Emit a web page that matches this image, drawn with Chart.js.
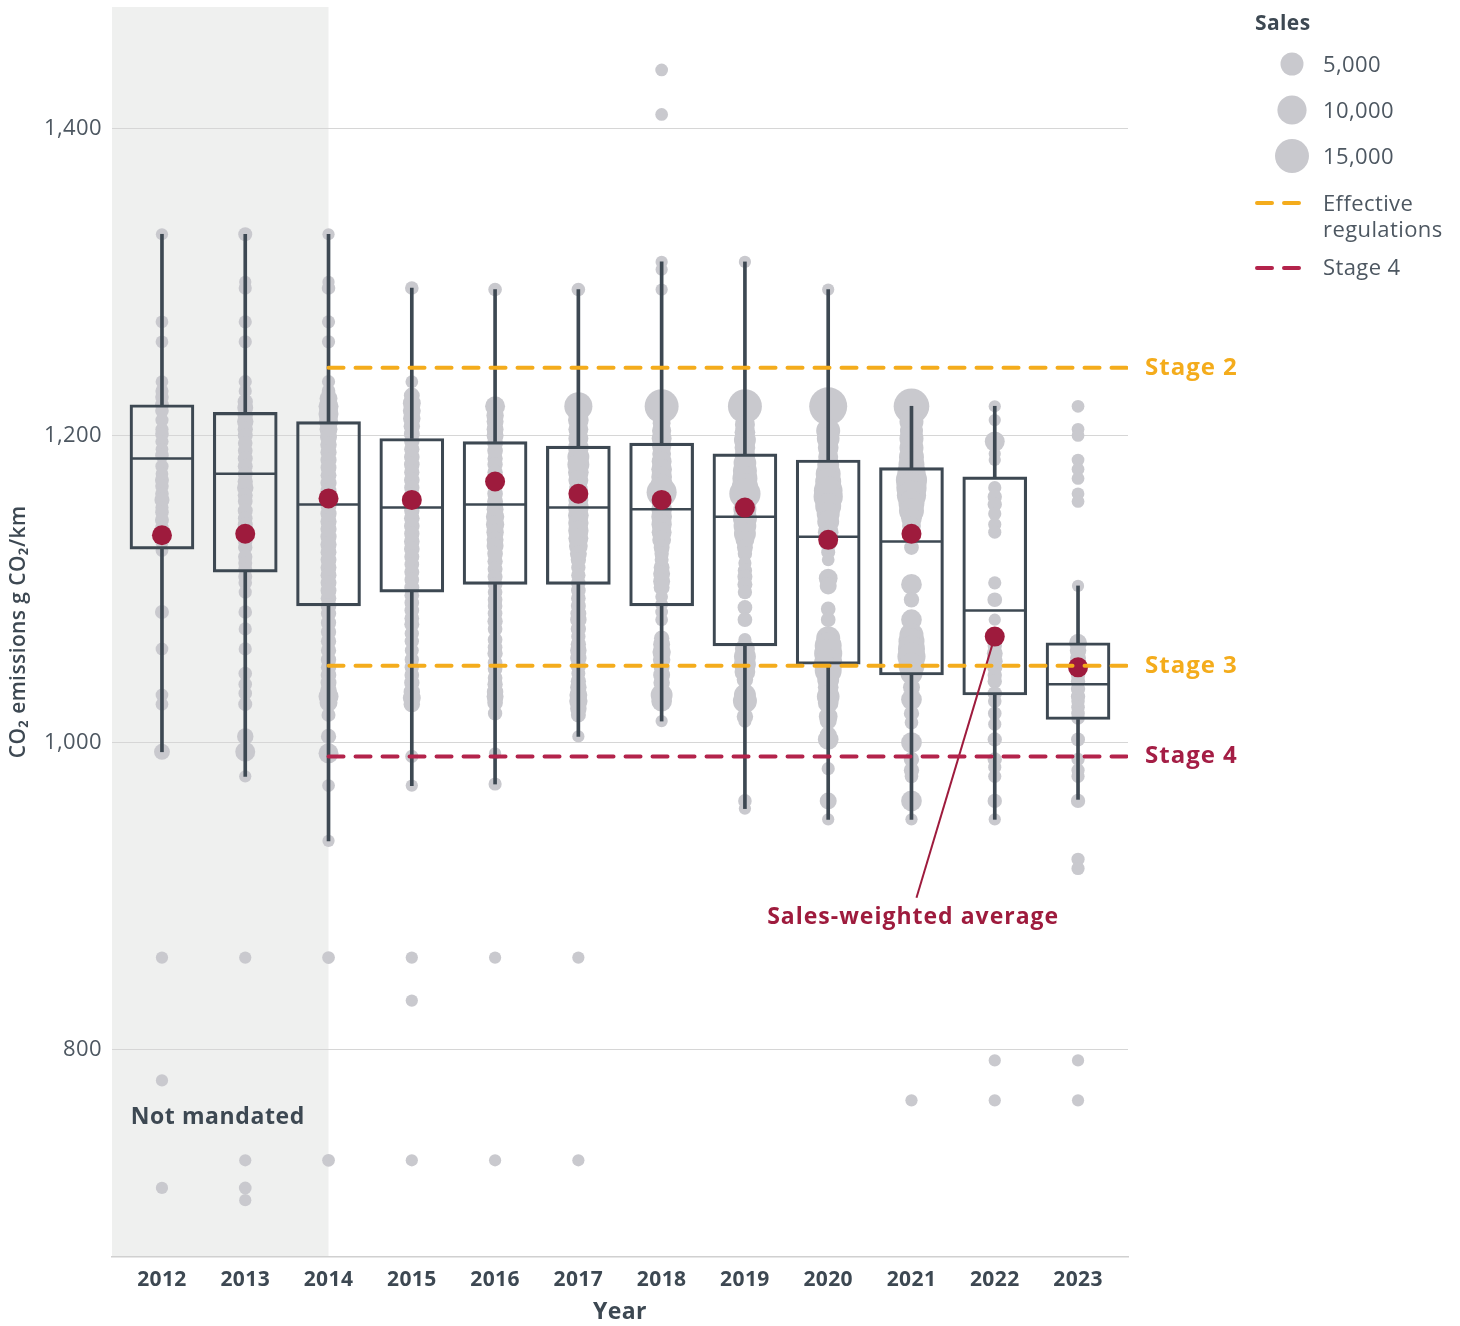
<!DOCTYPE html>
<html>
<head>
<meta charset="utf-8">
<title>Truck CO2 emissions by year</title>
<script src="https://cdn.jsdelivr.net/npm/chart.js@4.4.1/dist/chart.umd.min.js"></script>
<style>
  html, body { margin: 0; padding: 0; background: #ffffff; }
  #wrap { width: 1460px; height: 1326px; }
</style>
</head>
<body>
<div id="wrap"><canvas id="chart" width="1460" height="1326"></canvas></div>
<script>
// ---- data ----------------------------------------------------------------
const years = [2012, 2013, 2014, 2015, 2016, 2017, 2018, 2019, 2020, 2021, 2022, 2023];

// box-plot statistics per year (g CO2/km)
const whiskerLow  = [994, 978, 936, 972, 973, 1004, 1014, 957, 950, 950, 950, 963];
const q1          = [1126, 1111, 1089, 1098, 1103, 1103, 1089, 1063, 1051, 1044, 1031, 1015];
const median      = [1185, 1175, 1155, 1153, 1155, 1153, 1152, 1147, 1134, 1131, 1086, 1038];
const q3          = [1220, 1215, 1209, 1198, 1196, 1193, 1195, 1188, 1184, 1179, 1173, 1065];
const whiskerHigh = [1331, 1331, 1331, 1296, 1295, 1295, 1313, 1313, 1295, 1219, 1219, 1102];

// sales-weighted average per year
const weightedAvg = [1135, 1136, 1159, 1158, 1170, 1162, 1158, 1153, 1132, 1136, 1069, 1049];

// individual models: [emissions, sales]
const models2012 = [[1331,400],[1274,500],[1261,500],[1235,500],[1229,600],[1225,700],[1220,800],[1216,700],[1210,600],[1204,600],[1201,700],[1196,600],[1191,500],[1187,700],[1180,600],[1175,500],[1171,800],[1167,700],[1162,700],[1158,1100],[1153,600],[1150,700],[1145,800],[1140,700],[1135,600],[1130,500],[1125,500],[1085,800],[1061,500],[1031,500],[1025,500],[994,1400],[860,400],[780,400],[710,400]];
const models2013 = [[1331,800],[1300,400],[1296,600],[1274,600],[1261,600],[1235,600],[1229,600],[1222,1200],[1218,1400],[1213,1200],[1209,1600],[1204,1200],[1200,1100],[1195,1000],[1190,1000],[1185,1100],[1180,1100],[1175,1100],[1170,1200],[1166,1600],[1161,1100],[1157,1000],[1151,1100],[1146,1000],[1142,1100],[1136,1000],[1131,900],[1127,900],[1121,900],[1117,800],[1113,800],[1108,800],[1104,700],[1098,600],[1085,700],[1074,600],[1061,600],[1045,700],[1038,700],[1032,700],[1025,800],[1004,1600],[994,3200],[978,400],[860,400],[728,400],[710,500],[702,400]];
const models2014 = [[1331,400],[1300,400],[1296,700],[1274,600],[1261,600],[1235,600],[1229,700],[1224,2200],[1219,3200],[1214,3200],[1209,2800],[1204,2200],[1199,1800],[1194,1600],[1189,1500],[1184,1500],[1179,1400],[1174,1400],[1169,1500],[1164,1400],[1159,1400],[1154,1400],[1149,1500],[1144,1500],[1139,1500],[1134,1500],[1129,1500],[1124,1400],[1119,1400],[1114,1400],[1109,1400],[1104,1400],[1099,1400],[1094,1300],[1089,1300],[1084,1200],[1078,1200],[1072,1200],[1066,1200],[1060,1200],[1054,1200],[1049,1200],[1044,1300],[1039,1400],[1034,1600],[1030,3200],[1026,2200],[1018,800],[1004,1200],[993,3200],[972,500],[936,400],[860,500],[728,500]];
const models2015 = [[1296,700],[1235,500],[1226,1400],[1221,2200],[1216,2200],[1211,2000],[1206,1600],[1201,1400],[1196,1200],[1191,1200],[1186,1300],[1181,1300],[1176,1200],[1171,1300],[1166,1200],[1161,1200],[1156,1200],[1151,1200],[1146,1300],[1141,1300],[1136,1200],[1131,1300],[1126,1300],[1121,1100],[1116,1000],[1111,1100],[1106,1000],[1101,1100],[1096,1000],[1091,1000],[1086,1000],[1081,1000],[1077,1100],[1071,900],[1066,900],[1060,800],[1054,900],[1049,900],[1044,1000],[1039,1200],[1033,1600],[1029,2200],[1025,1600],[991,600],[972,400],[860,400],[832,400],[728,400]];
const models2016 = [[1295,700],[1219,3200],[1213,2000],[1209,1800],[1204,1800],[1200,1800],[1195,1400],[1190,1300],[1185,1200],[1181,1200],[1176,1200],[1172,1200],[1167,1200],[1162,1300],[1157,1400],[1152,1800],[1147,2400],[1142,2400],[1137,2000],[1132,1800],[1128,1800],[1123,1300],[1118,1200],[1113,1100],[1108,1100],[1103,1000],[1098,1000],[1093,1000],[1089,1000],[1084,1000],[1079,1200],[1074,1000],[1067,1000],[1062,1000],[1058,1200],[1052,1000],[1048,1000],[1042,1000],[1038,1200],[1033,1600],[1030,1800],[1026,1300],[1019,900],[993,400],[973,600],[860,400],[728,400]];
const models2017 = [[1295,700],[1219,9000],[1210,3600],[1204,3200],[1198,3200],[1192,3600],[1186,4300],[1181,4300],[1176,3600],[1171,3200],[1165,2600],[1158,3200],[1153,3600],[1148,3600],[1143,3400],[1138,3400],[1133,3200],[1128,2600],[1123,1800],[1119,1200],[1114,900],[1109,900],[1104,1000],[1099,1000],[1094,1000],[1089,1100],[1084,1400],[1080,1600],[1074,1200],[1069,900],[1064,1200],[1060,1600],[1055,1600],[1050,1200],[1045,800],[1040,1200],[1036,1600],[1031,2200],[1027,2400],[1022,1600],[1018,1100],[1004,400],[860,400],[728,400]];
const models2018 = [[1438,500],[1409,500],[1313,400],[1308,400],[1295,400],[1219,15000],[1208,2200],[1203,2800],[1198,3200],[1193,2800],[1188,2600],[1183,3200],[1178,3600],[1173,3600],[1168,4300],[1163,10800],[1152,3600],[1147,3600],[1142,3400],[1137,3200],[1132,2600],[1127,1400],[1123,900],[1119,800],[1114,1400],[1110,1800],[1105,1800],[1101,1400],[1095,500],[1090,500],[1085,500],[1080,500],[1068,1200],[1064,1800],[1059,2400],[1054,2000],[1049,1400],[1044,1800],[1039,1600],[1031,4300],[1027,3600],[1014,400]];
const models2019 = [[1313,400],[1219,15000],[1207,3200],[1202,3600],[1197,4300],[1192,3600],[1187,3600],[1182,4800],[1177,5700],[1172,6400],[1167,7200],[1162,12000],[1152,5000],[1146,5700],[1141,4800],[1136,4300],[1132,2600],[1127,1400],[1123,900],[1117,600],[1112,900],[1108,1100],[1103,1100],[1098,900],[1088,1000],[1080,1000],[1067,600],[1061,3200],[1056,4300],[1051,4300],[1046,3600],[1041,1600],[1031,4300],[1027,5700],[1017,1600],[1014,600],[962,700],[957,400]];
const models2020 = [[1295,400],[1219,20000],[1203,5700],[1198,4800],[1192,3600],[1186,3200],[1181,4300],[1175,6400],[1170,7200],[1164,9500],[1160,10000],[1154,7200],[1149,5000],[1144,4300],[1137,3600],[1130,2000],[1124,800],[1119,500],[1107,2600],[1102,1800],[1087,1000],[1080,1000],[1068,5700],[1063,8000],[1058,9000],[1052,9000],[1047,8000],[1041,4300],[1036,3600],[1030,4800],[1026,3600],[1017,2600],[1014,1800],[1005,1800],[1002,3600],[983,600],[962,1800],[950,400]];
const models2021 = [[1219,17000],[1209,5700],[1203,5000],[1198,5700],[1192,5700],[1186,6400],[1181,7200],[1176,9000],[1171,12000],[1166,11000],[1161,10000],[1156,7200],[1151,6400],[1146,3600],[1141,2600],[1127,1000],[1103,3600],[1093,1200],[1080,3600],[1070,5700],[1066,7200],[1061,8000],[1056,9000],[1050,7200],[1045,4300],[1036,1800],[1028,3600],[1019,1200],[1013,700],[1000,3600],[989,1200],[982,1200],[978,700],[962,3600],[950,400],[767,400]];
const models2022 = [[1219,400],[1210,400],[1196,3200],[1188,400],[1184,400],[1166,600],[1160,900],[1155,900],[1149,600],[1142,600],[1137,600],[1104,600],[1093,1000],[1080,400],[1063,900],[1058,1400],[1053,1400],[1049,1200],[1044,900],[1040,900],[1032,900],[1027,700],[1019,700],[1012,600],[1002,900],[989,900],[984,600],[978,600],[962,900],[950,400],[793,400],[767,400]];
const models2023 = [[1219,500],[1204,500],[1200,500],[1184,500],[1178,500],[1172,500],[1162,500],[1157,500],[1102,400],[1065,2200],[1060,1600],[1055,1400],[1049,1000],[1044,900],[1040,900],[1035,900],[1030,900],[1027,700],[1023,700],[1019,700],[1016,700],[1002,800],[989,600],[982,600],[978,600],[962,900],[924,600],[918,600],[793,400],[767,400]];

// regulation thresholds
const stageNames  = ['Stage 2', 'Stage 3', 'Stage 4'];
const stageValues = [1244, 1050, 991];
const mandateStartYear = 2014;

// axis ticks and legend sizes
const yTicks = [800, 1000, 1200, 1400];
const legendSales = [5000, 10000, 15000];

// callout for the sales-weighted average (end of leader line, label anchor)
const calloutEnd   = { x: 2021.06, y: 899 };
const calloutLabel = { x: 2021.02, y: 886, text: 'Sales-weighted average' };
const notMandatedLabel = { x: 2012.67, y: 756, text: 'Not mandated' };

// ---- styling -------------------------------------------------------------
const FONT = "'Open Sans', 'Liberation Sans', sans-serif";
const SLATE = '#3d4852';
const TICK = '#4d5761';
const GREY_DOT = '#c9c9ce';
const AVG_RED = '#9e1b3d';
const ORANGE = '#f4ac1c';
const STAGE4_RED = '#b3234b';
const stageColors = [ORANGE, ORANGE, STAGE4_RED];
const labelColors = [ORANGE, ORANGE, '#a41e45'];

Chart.defaults.font.family = FONT;

// bubble radius (px) from number of sales: sqrt-area scaling
const radiusFor = s => 4 + 0.106 * Math.sqrt(s);

const modelSets = [models2012, models2013, models2014, models2015, models2016, models2017,
                   models2018, models2019, models2020, models2021, models2022, models2023];

const bubbles = [];
years.forEach((yr, i) => {
  modelSets[i].forEach(([v, s]) => bubbles.push({ x: yr, y: v, r: radiusFor(s) }));
});

const X_MIN = 2011.4, X_MAX = 2023.6;

const stageDatasets = stageValues.map((v, i) => ({
  type: 'line',
  label: stageNames[i],
  data: [{ x: mandateStartYear, y: v }, { x: X_MAX, y: v }],
  borderColor: stageColors[i],
  borderWidth: 4,
  borderDash: [15, 12],
  borderCapStyle: 'round',
  pointRadius: 0,
  pointHoverRadius: 0,
  order: 0
}));

// ---- plugins -------------------------------------------------------------
const spacing = {
  id: 'textSpacing',
  beforeUpdate(chart) { chart.ctx.letterSpacing = '0.4px'; },
  beforeDraw(chart) { chart.ctx.letterSpacing = '0.4px'; }
};

const shadePlugin = {
  id: 'notMandatedShade',
  beforeDraw(chart) {
    const { ctx, chartArea: a, scales: { x } } = chart;
    ctx.save();
    ctx.fillStyle = '#eff0ef';
    ctx.fillRect(a.left, a.top, x.getPixelForValue(mandateStartYear) - a.left, a.bottom - a.top);
    ctx.restore();
  }
};

const textPlugin = {
  id: 'annotationsAndLegend',
  afterDraw(chart) {
    const { ctx, chartArea: a, scales: { x, y } } = chart;
    ctx.save();
    ctx.textBaseline = 'middle';

    // stage labels right of the plot
    ctx.letterSpacing = '1px';
    ctx.font = `bold 24px ${FONT}`;
    ctx.textAlign = 'left';
    stageValues.forEach((v, i) => {
      ctx.fillStyle = labelColors[i];
      ctx.fillText(stageNames[i], a.right + 17, y.getPixelForValue(v));
    });

    // callout label
    ctx.font = `bold 23px ${FONT}`;
    ctx.fillStyle = AVG_RED;
    ctx.textAlign = 'center';
    ctx.fillText(calloutLabel.text, x.getPixelForValue(calloutLabel.x), y.getPixelForValue(calloutLabel.y));

    // not mandated label
    ctx.letterSpacing = '0.6px';
    ctx.fillStyle = SLATE;
    ctx.fillText(notMandatedLabel.text, x.getPixelForValue(notMandatedLabel.x), y.getPixelForValue(notMandatedLabel.y));

    // legend
    const lx = 1255;
    ctx.letterSpacing = '0.4px';
    ctx.textAlign = 'left';
    ctx.font = `bold 21px ${FONT}`;
    ctx.fillStyle = SLATE;
    ctx.fillText('Sales', lx, 24);

    ctx.font = `22px ${FONT}`;
    const rowY = [64, 110, 156];
    legendSales.forEach((s, i) => {
      ctx.beginPath();
      ctx.fillStyle = GREY_DOT;
      ctx.arc(1292, rowY[i], radiusFor(s), 0, Math.PI * 2);
      ctx.fill();
      ctx.fillStyle = TICK;
      ctx.fillText(s.toLocaleString('en-US'), 1323, rowY[i] + 2);
    });

    const dashRow = (color, yy) => {
      ctx.beginPath();
      ctx.strokeStyle = color;
      ctx.lineWidth = 4;
      ctx.lineCap = 'round';
      ctx.setLineDash([15, 12]);
      ctx.moveTo(lx + 2, yy);
      ctx.lineTo(lx + 47, yy);
      ctx.stroke();
      ctx.setLineDash([]);
    };
    dashRow(ORANGE, 203);
    ctx.fillStyle = TICK;
    ctx.fillText('Effective', 1323, 205);
    ctx.fillText('regulations', 1323, 231);
    dashRow(STAGE4_RED, 268);
    ctx.fillStyle = TICK;
    ctx.fillText('Stage 4', 1323, 269);

    ctx.restore();
  }
};

// ---- chart ---------------------------------------------------------------
new Chart(document.getElementById('chart'), {
  type: 'scatter',
  data: {
    datasets: [
      ...stageDatasets,
      {
        type: 'scatter',
        label: 'Sales-weighted average',
        data: years.map((yr, i) => ({ x: yr, y: weightedAvg[i] })),
        pointRadius: 10,
        pointHoverRadius: 10,
        pointBackgroundColor: AVG_RED,
        pointBorderWidth: 0,
        order: 1
      },
      {
        type: 'line',
        label: 'callout',
        data: [{ x: 2022, y: weightedAvg[10] }, calloutEnd],
        borderColor: AVG_RED,
        borderWidth: 2,
        pointRadius: 0,
        pointHoverRadius: 0,
        order: 2
      },
      {
        type: 'scatter',
        label: 'Median',
        data: years.map((yr, i) => ({ x: yr, y: median[i] })),
        pointStyle: 'line',
        pointRadius: 31,
        pointHoverRadius: 31,
        pointBorderColor: SLATE,
        pointBorderWidth: 2.5,
        order: 3
      },
      {
        type: 'bar',
        label: 'Interquartile range',
        data: years.map((yr, i) => ({ x: yr, y: [q1[i], q3[i]] })),
        backgroundColor: 'rgba(0,0,0,0)',
        borderColor: SLATE,
        borderWidth: 2.5,
        borderSkipped: false,
        barThickness: 64,
        grouped: false,
        order: 4
      },
      {
        type: 'bar',
        label: 'Upper whisker',
        data: years.map((yr, i) => ({ x: yr, y: [q3[i], whiskerHigh[i]] })),
        backgroundColor: SLATE,
        borderWidth: 0,
        barThickness: 3,
        grouped: false,
        order: 5
      },
      {
        type: 'bar',
        label: 'Lower whisker',
        data: years.map((yr, i) => ({ x: yr, y: [whiskerLow[i], q1[i]] })),
        backgroundColor: SLATE,
        borderWidth: 0,
        barThickness: 3,
        grouped: false,
        order: 5
      },
      {
        type: 'bubble',
        label: 'Models',
        data: bubbles,
        backgroundColor: GREY_DOT,
        borderWidth: 0,
        hoverRadius: 0,
        order: 6
      }
    ]
  },
  options: {
    responsive: false,
    animation: false,
    events: [],
    layout: { autoPadding: false, padding: { top: 7, right: 332, bottom: 0, left: 0 } },
    plugins: { legend: { display: false }, tooltip: { enabled: false } },
    scales: {
      x: {
        type: 'linear',
        min: X_MIN,
        max: X_MAX,
        offset: false,
        afterBuildTicks: s => { s.ticks = years.map(v => ({ value: v })); },
        afterFit: s => { s.height = 69; },
        ticks: {
          autoSkip: false,
          maxRotation: 0,
          padding: 10,
          color: SLATE,
          font: { size: 21, weight: 'bold' },
          callback: v => String(v)
        },
        grid: { display: true, drawOnChartArea: false, drawTicks: false, offset: false },
        border: { display: true, color: '#d0d0d0', width: 1.5 },
        title: {
          display: true,
          text: 'Year',
          color: SLATE,
          font: { size: 23, weight: 'bold' },
          padding: { top: 0, bottom: 0 }
        }
      },
      y: {
        type: 'linear',
        min: 665,
        max: 1479,
        beginAtZero: false,
        afterBuildTicks: s => { s.ticks = yTicks.map(v => ({ value: v })); },
        afterFit: s => { s.width = 112; s.paddingTop = 0; s.paddingBottom = 0; },
        ticks: {
          padding: 10,
          color: TICK,
          font: { size: 22 },
          callback: v => v.toLocaleString('en-US')
        },
        grid: { color: '#d6d6d6', lineWidth: 1, drawTicks: false },
        border: { display: false },
        title: {
          display: true,
          text: 'CO₂ emissions g CO₂/km',
          color: SLATE,
          font: { size: 21, weight: '600' },
          padding: { top: 6, bottom: 0 }
        }
      }
    }
  },
  plugins: [spacing, shadePlugin, textPlugin]
});
</script>
</body>
</html>
